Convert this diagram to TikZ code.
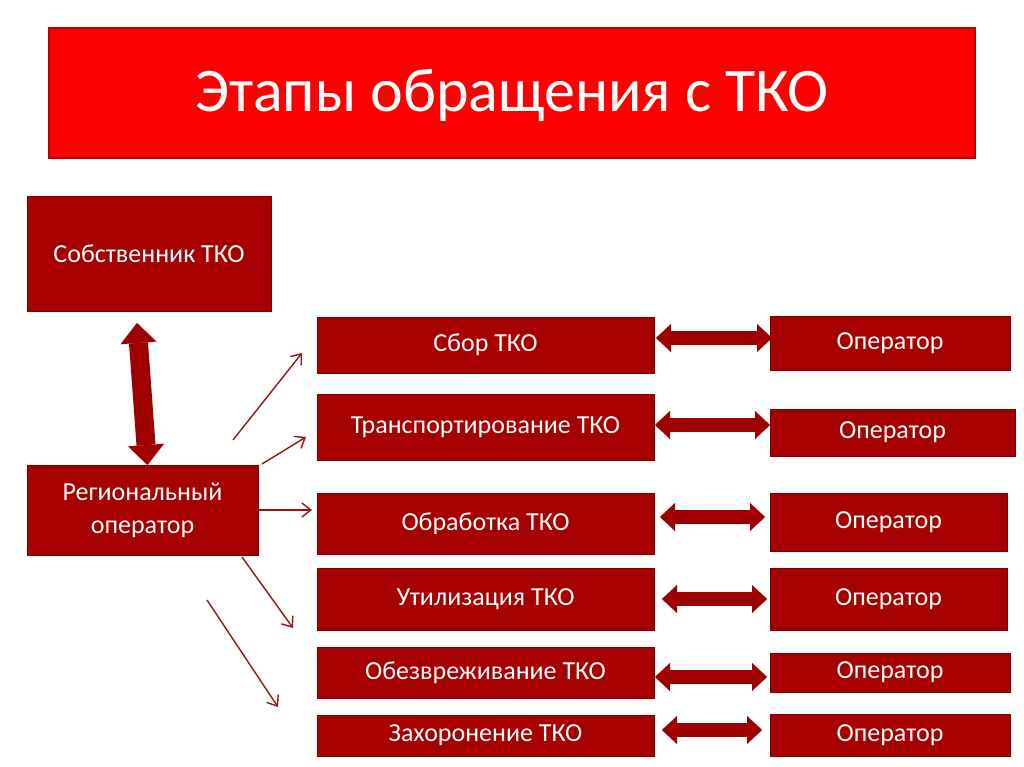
\documentclass[tikz,border=0pt]{standalone}
\usepackage{fontspec}
\setmainfont{Carlito}
\usetikzlibrary{arrows.meta,calc}
\definecolor{boxred}{RGB}{166,0,0}
\definecolor{boxedge}{RGB}{125,0,0}
\definecolor{titlered}{RGB}{255,0,0}
\definecolor{titleedge}{RGB}{190,0,0}
\definecolor{arrowred}{RGB}{158,0,0}
\definecolor{thinred}{RGB}{150,20,20}
\begin{document}
\begin{tikzpicture}[x=1pt,y=-1pt,
  box/.style={draw=boxedge, line width=1pt, fill=boxred, text=white, anchor=north west,
    inner sep=0pt, outer sep=0pt, align=center, font=\fontsize{26}{31}\selectfont},
  bigbox/.style={box, font=\fontsize{26}{33}\selectfont},
  titlebox/.style={draw=titleedge, line width=1.2pt, fill=titlered, text=white, anchor=north west,
    inner sep=0pt, outer sep=0pt, font=\fontsize{62}{70}\selectfont},
  hdouble/.style={draw=arrowred, line width=14pt,
    {Triangle[length=15pt,width=28pt,line width=0.1pt]}-{Triangle[length=15pt,width=28pt,line width=0.1pt]}},
  vdouble/.style={draw=arrowred, line width=19pt,
    {Triangle[length=20pt,width=36pt,line width=0.1pt]}-{Triangle[length=20pt,width=36pt,line width=0.1pt]}},
  thin/.style={draw=thinred, line width=1.4pt, -{Straight Barb[length=9pt,width=14pt,line width=1.4pt]}}
]
\useasboundingbox (0,0) rectangle (1024,767);
\fill[white] (0,0) rectangle (1024,767);

\node[titlebox, minimum width=926pt, minimum height=130pt, text depth=6pt] (title) at (49,28) {Этапы обращения с ТКО};

\node[bigbox, minimum width=244pt, minimum height=114pt] (sob) at (27,197) {Собственник ТКО};
\node[bigbox, minimum width=231pt, minimum height=90pt] (reg) at (27,465) {Региональный\\оператор};

\node[box, minimum width=337pt, minimum height=56pt] (s1) at (317,317) {Сбор ТКО};
\node[box, minimum width=337pt, minimum height=66pt] (s2) at (317,394) {Транспортирование ТКО};
\node[box, minimum width=337pt, minimum height=61pt] (s3) at (317,493) {Обработка ТКО};
\node[box, minimum width=337pt, minimum height=62pt] (s4) at (317,568) {Утилизация ТКО};
\node[box, minimum width=337pt, minimum height=51pt] (s5) at (317,647) {Обезвреживание ТКО};
\node[box, minimum width=337pt, minimum height=41pt] (s6) at (317,715) {Захоронение ТКО};

\node[box, minimum width=240pt, minimum height=54pt] (o1) at (770,316) {Оператор};
\node[box, minimum width=245pt, minimum height=47pt] (o2) at (770,409) {Оператор};
\node[box, minimum width=237pt, minimum height=58pt] (o3) at (770,493) {Оператор};
\node[box, minimum width=237pt, minimum height=62pt] (o4) at (770,568) {Оператор};
\node[box, minimum width=240pt, minimum height=39pt] (o5) at (770,653) {Оператор};
\node[box, minimum width=240pt, minimum height=42pt] (o6) at (770,714) {Оператор};

% vertical double arrow
\draw[vdouble] ($(sob.south)+(-12,12)$) -- ($(reg.north)+(5,0)$);

% horizontal double arrows
\draw[hdouble] ($(s1.east)+(2,-7)$) -- ($(o1.west)+(2,-5)$);
\draw[hdouble] ($(s2.east)+(1,-2)$) -- ($(o2.west)+(0,-7.5)$);
\draw[hdouble] ($(s3.east)+(6,-6.5)$) -- ($(o3.west)+(-5,-5)$);
\draw[hdouble] ($(s4.east)+(8,0)$) -- ($(o4.west)+(-3,0)$);
\draw[hdouble] ($(s5.east)+(1,4.5)$) -- ($(o5.west)+(-3,4.5)$);
\draw[hdouble] ($(s6.east)+(8,-5.5)$) -- ($(o6.west)+(-8,-5)$);

% thin arrows
\draw[thin] ($(reg.north east)+(-25,-25)$) -- ($(s1.west)+(-15,8)$);
\draw[thin] ($(reg.north east)+(4,-1)$) -- ($(s2.west)+(-11,10)$);
\draw[thin] ($(reg.east)+(1,0)$) -- ($(s3.west)+(-5,-13.5)$);
\draw[thin] ($(reg.south east)+(-16,2)$) -- ($(s4.west)+(-24,29)$);
\draw[thin] ($(reg.south east)+(-51,45)$) -- ($(s5.west)+(-39,34.5)$);
\end{tikzpicture}
\end{document}
